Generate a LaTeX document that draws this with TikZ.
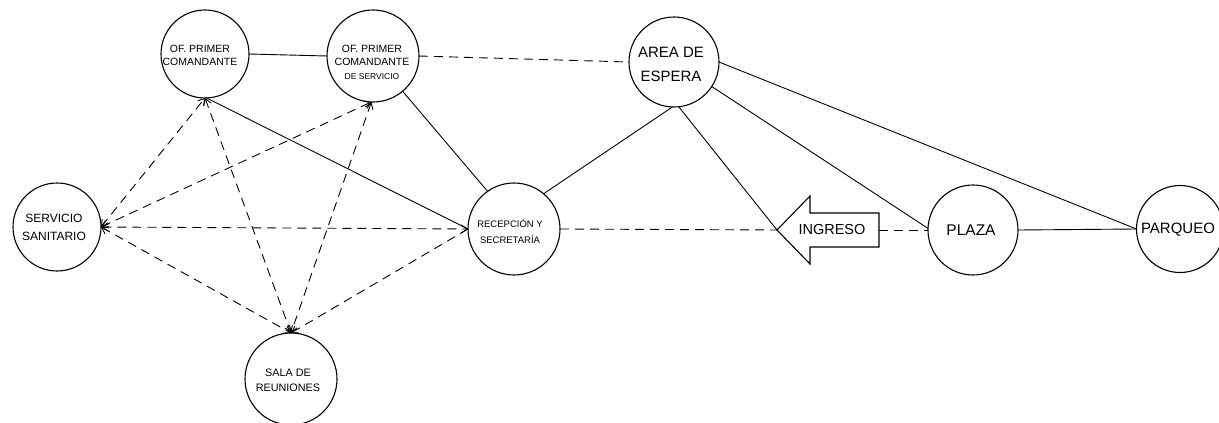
\documentclass[tikz,border=0pt]{standalone}
\usepackage{fontspec}
\setmainfont{Liberation Sans}
\usetikzlibrary{arrows.meta}
\begin{document}
\begin{tikzpicture}[x=1pt,y=-1pt,
  >={Straight Barb[length=6pt,width=8pt]},
  room/.style={draw, circle, line width=1.1pt, inner sep=0pt, outer sep=0pt},
  lbl/.style={align=center, inner sep=0pt},
  link/.style={line width=0.9pt},
  dlink/.style={line width=0.9pt, dash pattern=on 9pt off 6pt},
]
\useasboundingbox (0,0) rectangle (1219,423);

% rooms
\node[room, minimum size=88pt] (A) at (205,54) {};
\node[room, minimum size=92pt] (B) at (373,56) {};
\node[room, minimum size=90pt] (C) at (674,62) {};
\node[room, minimum size=88pt] (D) at (57,227) {};
\node[room, minimum size=92pt] (E) at (514,229) {};
\node[room, minimum size=90pt] (F) at (973,230) {};
\node[room, minimum size=87pt] (G) at (1180,229) {};
\node[room, minimum size=92pt] (H) at (291,379) {};

% labels
\node[lbl, font=\fontsize{10.5}{13}\selectfont] (At) at (200,55.5) {OF. PRIMER\\COMANDANTE};
\node[lbl, font=\fontsize{10.5}{13}\selectfont] (Bt) at (372,62.5) {OF. PRIMER\\COMANDANTE\\[1.5pt]{\fontsize{8.5}{10}\selectfont DE SERVICIO}};
\node[lbl, font=\fontsize{15}{24}\selectfont] (Ct) at (671,64) {AREA DE\\ESPERA};
\node[lbl, font=\fontsize{12}{18}\selectfont] (Dt) at (54,227) {SERVICIO\\SANITARIO};
\node[lbl, font=\fontsize{9.5}{15.5}\selectfont] (Et) at (510,231.5) {RECEPCIÓN Y\\SECRETARÍA};
\node[lbl, font=\fontsize{15.5}{18}\selectfont] (Ft) at (971,230) {PLAZA};
\node[lbl, font=\fontsize{15}{18}\selectfont] (Gt) at (1178,230) {PARQUEO};
\node[lbl, font=\fontsize{10.8}{15}\selectfont] (Ht) at (288,380.5) {SALA DE\\REUNIONES};

% entrance arrow
\coordinate (tip) at (777,230);
\coordinate (tail) at (879,230);
\draw[line width=1.1pt] (tip) -- (810,196) -- (810,213) -- (879,213) -- (879,247) -- (810,247) -- (810,264) -- cycle;
\node[lbl, font=\fontsize{14.5}{18}\selectfont] (It) at (832,230) {INGRESO};

% solid links
\draw[link] (A.east) -- (B.west);
\draw[link] (A.-88) -- (E.west);
\draw[link] (B.-50) -- (E.125);
\draw[link] (C.-92) -- (E.50);
\draw[link] (C.-84) -- (tip);
\draw[link] (C.-33) -- (F.178);
\draw[link] (C.east) -- (G.west);
\draw[link] (F.east) -- (G.west);

% dashed links
\draw[dlink] (B.east) -- (C.west);
\draw[dlink] (E.east) -- (tip);
\draw[dlink] (tail) -- (F.west);

% dashed arrows
\draw[dlink,<->] (D.east) -- (A.south);
\draw[dlink,<->] (D.east) -- (B.-92);
\draw[dlink,<->] (D.east) -- (E.west);
\draw[dlink,<->] (D.east) -- (H.north);
\draw[dlink,<->] (A.south) -- (H.north);
\draw[dlink,<->] (B.-92) -- (H.north);
\draw[dlink,->] (E.west) -- (H.north);
\end{tikzpicture}
\end{document}
